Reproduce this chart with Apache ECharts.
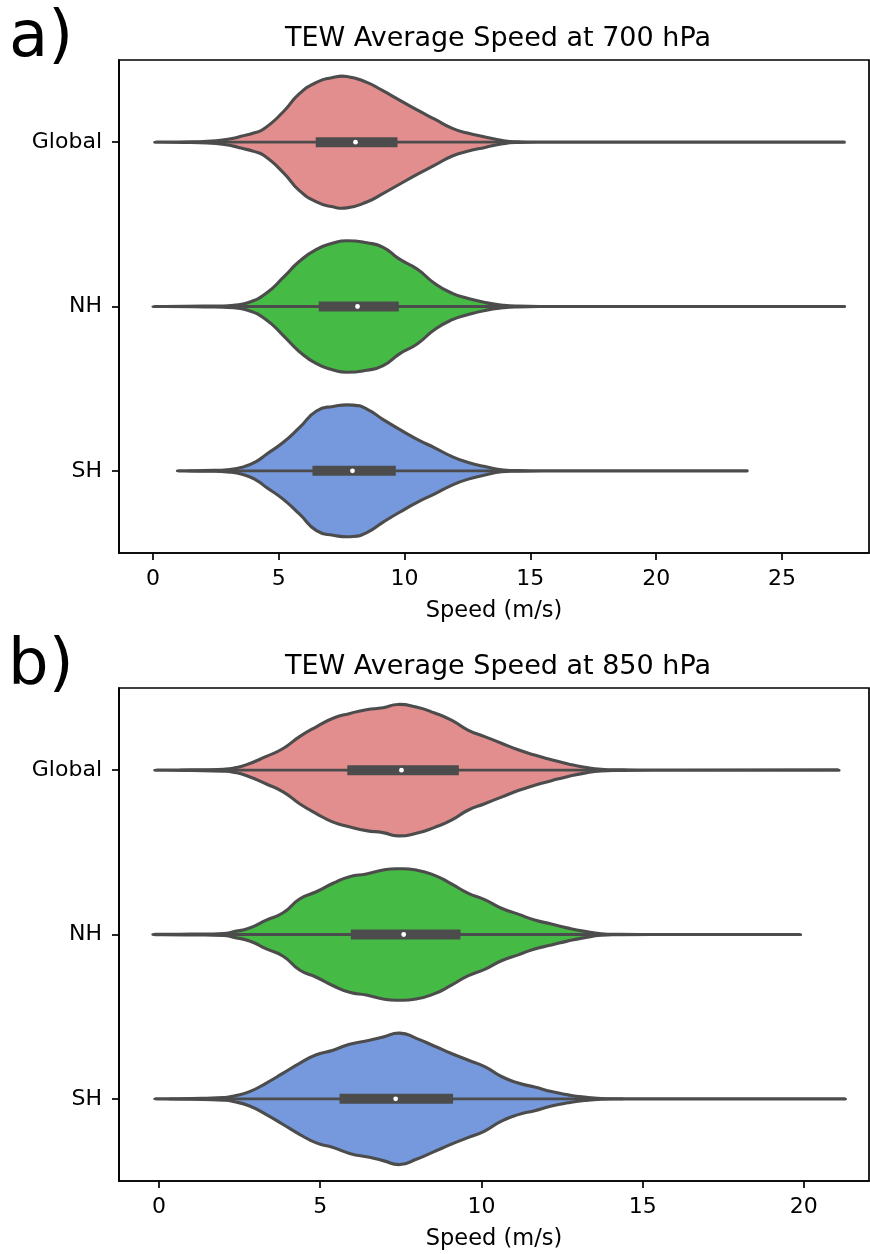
<!DOCTYPE html>
<html>
<head>
<meta charset="utf-8">
<script src="https://cdn.jsdelivr.net/npm/echarts@6/dist/echarts.min.js"></script>
<style>
  html, body { margin: 0; padding: 0; background: #fff; }
  #chart { width: 870px; height: 1254px; }
</style>
</head>
<body>
<div id="chart"></div>
<script>
// ---------- Data ----------
const categories = ['Global', 'NH', 'SH'];
const colors = ['#E28E8E', '#45BA45', '#7599DC'];

const ticks700 = [0, 5, 10, 15, 20, 25];
const ticks850 = [0, 5, 10, 15, 20];

// 700 hPa: box statistics
const q1_700  = [6.47, 6.59, 6.34];
const med_700 = [8.05, 8.13, 7.93];
const q3_700  = [9.72, 9.77, 9.65];
const wlo_700 = [1.60, 1.82, 1.38];
const whi_700 = [14.6, 14.54, 14.62];

// 850 hPa: box statistics
const q1_850  = [5.84, 5.95, 5.60];
const med_850 = [7.52, 7.59, 7.34];
const q3_850  = [9.30, 9.35, 9.12];
const wlo_850 = [0.65, 0.85, 0.32];
const whi_850 = [14.49, 14.45, 14.40];

// Violin outlines: speed values and relative half-widths (1 = widest)
const g700X = [0.07, 1.5, 2.5, 3.2, 3.5, 4.0, 4.4, 5.2, 5.8, 6.5, 7.1, 7.7, 8.5, 9.1, 9.8, 10.5, 11.2, 11.9, 12.5, 13.2, 13.9, 14.5, 16, 27.48];
const g700W = [0, 0.005, 0.02, 0.06, 0.09, 0.14, 0.2, 0.47, 0.73, 0.91, 0.98, 1.0, 0.91, 0.79, 0.64, 0.49, 0.35, 0.21, 0.14, 0.08, 0.025, 0.005, 0.001, 0];

const n700X = [0.0, 2.0, 3.2, 3.8, 4.5, 5.2, 5.8, 6.5, 7.2, 7.7, 8.5, 9.15, 9.8, 10.5, 11.2, 11.9, 12.5, 13.2, 13.9, 14.5, 16, 27.49];
const n700W = [0, 0.005, 0.02, 0.06, 0.2, 0.45, 0.68, 0.87, 0.97, 1.0, 0.97, 0.9, 0.72, 0.57, 0.35, 0.2, 0.125, 0.06, 0.02, 0.005, 0.001, 0];

const s700X = [0.97, 2.0, 3.06, 3.6, 4.1, 4.5, 5.17, 5.83, 6.5, 7.16, 7.95, 8.5, 9.15, 9.8, 10.5, 11.2, 11.87, 12.5, 13.2, 13.85, 14.5, 16, 23.62];
const s700W = [0, 0.005, 0.02, 0.06, 0.14, 0.25, 0.43, 0.66, 0.91, 0.98, 1.0, 0.94, 0.78, 0.63, 0.48, 0.35, 0.22, 0.13, 0.065, 0.015, 0.005, 0.001, 0];

const g850X = [-0.13, 1.0, 2.0, 2.3, 2.7, 3.33, 3.85, 4.36, 4.88, 5.4, 5.9, 6.43, 6.95, 7.41, 7.98, 8.55, 9.07, 9.58, 10.1, 10.62, 11.14, 11.65, 12.17, 12.69, 13.2, 13.72, 14.3, 16, 21.09];
const g850W = [0, 0.005, 0.015, 0.03, 0.08, 0.21, 0.33, 0.51, 0.66, 0.79, 0.86, 0.92, 0.95, 1.0, 0.96, 0.87, 0.76, 0.61, 0.51, 0.41, 0.31, 0.23, 0.16, 0.095, 0.045, 0.012, 0.004, 0.001, 0];

const n850X = [-0.19, 1.0, 2.0, 2.3, 2.81, 3.33, 3.85, 4.36, 4.88, 5.4, 5.91, 6.43, 6.95, 7.36, 7.98, 8.55, 9.07, 9.58, 10.1, 10.62, 11.14, 11.65, 12.17, 12.69, 13.2, 13.72, 14.3, 16, 19.9];
const n850W = [0, 0.005, 0.015, 0.04, 0.1, 0.22, 0.33, 0.54, 0.65, 0.78, 0.88, 0.92, 0.98, 1.0, 0.98, 0.9, 0.77, 0.63, 0.53, 0.4, 0.31, 0.22, 0.16, 0.097, 0.048, 0.012, 0.004, 0.001, 0];

const s850X = [-0.13, 1.0, 2.0, 2.3, 2.81, 3.33, 3.85, 4.36, 4.88, 5.4, 5.91, 6.53, 6.95, 7.47, 7.98, 8.55, 9.07, 9.58, 10.1, 10.62, 11.14, 11.65, 12.17, 12.69, 13.2, 13.72, 14.3, 16, 21.29];
const s850W = [0, 0.005, 0.02, 0.04, 0.11, 0.24, 0.39, 0.54, 0.67, 0.74, 0.83, 0.89, 0.94, 1.0, 0.92, 0.8, 0.69, 0.59, 0.49, 0.34, 0.24, 0.18, 0.11, 0.06, 0.026, 0.006, 0.002, 0.001, 0];

// ---------- Rendering ----------
const FONT = 'DejaVu Sans';
const EDGE = '#4c4c4c';

function makeRender(xs, ws, q1, med, q3, wlo, whi) {
  return function (params, api) {
    const i = params.dataIndex;
    const X = xs[i], W = ws[i];
    const cy = api.coord([0, i])[1];
    const band = api.size([0, 1])[1];
    const maxHalf = band * 0.4;
    const pts = [];
    for (let k = 0; k < X.length; k++) {
      pts.push([api.coord([X[k], i])[0], cy - W[k] * maxHalf]);
    }
    for (let k = X.length - 2; k >= 1; k--) {
      pts.push([api.coord([X[k], i])[0], cy + W[k] * maxHalf]);
    }
    const xq1 = api.coord([q1[i], i])[0];
    const xq3 = api.coord([q3[i], i])[0];
    const xm = api.coord([med[i], i])[0];
    const xlo = api.coord([wlo[i], i])[0];
    const xhi = api.coord([whi[i], i])[0];
    const boxH = 10;
    return {
      type: 'group',
      children: [
        { type: 'polygon', shape: { points: pts, smooth: 0.55 },
          style: { fill: colors[i], stroke: EDGE, lineWidth: 3.1, lineJoin: 'round', lineCap: 'round' } },
        { type: 'line', shape: { x1: xlo, y1: cy, x2: xhi, y2: cy },
          style: { stroke: EDGE, lineWidth: 2.8 } },
        { type: 'rect', shape: { x: xq1, y: cy - boxH / 2, width: xq3 - xq1, height: boxH },
          style: { fill: EDGE } },
        { type: 'circle', shape: { cx: xm, cy: cy, r: 2.4 }, style: { fill: '#fff' } }
      ]
    };
  };
}

function xAxisCfg(grid, min, max, ticks) {
  return {
    gridIndex: grid, type: 'value', min: min, max: max,
    axisLine: { show: true, onZero: false, lineStyle: { color: '#000', width: 1.7 } },
    axisTick: { show: true, length: 7, lineStyle: { color: '#000', width: 1.7 }, customValues: ticks },
    axisLabel: { customValues: ticks, fontSize: 22, color: '#000', fontFamily: FONT, margin: 15 },
    splitLine: { show: false },
    name: 'Speed (m/s)', nameLocation: 'middle', nameGap: 47,
    nameTextStyle: { fontSize: 22.5, color: '#000', fontFamily: FONT }
  };
}
function yAxisCfg(grid) {
  return {
    gridIndex: grid, type: 'category', data: categories, inverse: true,
    axisLine: { show: true, onZero: false, lineStyle: { color: '#000', width: 1.7 } },
    axisTick: { show: true, alignWithLabel: true, length: 7, lineStyle: { color: '#000', width: 1.7 } },
    axisLabel: { fontSize: 22, color: '#000', fontFamily: FONT, margin: 17 },
    splitLine: { show: false }
  };
}

const chart = echarts.init(document.getElementById('chart'), null, { renderer: 'canvas' });
chart.setOption({
  animation: false,
  backgroundColor: '#fff',
  grid: [
    { left: 119, top: 60, width: 750, height: 493, show: true, borderColor: '#000', borderWidth: 1.7, backgroundColor: 'transparent' },
    { left: 119, top: 688, width: 750, height: 493, show: true, borderColor: '#000', borderWidth: 1.7, backgroundColor: 'transparent' }
  ],
  xAxis: [xAxisCfg(0, -1.35, 28.46, ticks700), xAxisCfg(1, -1.24, 22.02, ticks850)],
  yAxis: [yAxisCfg(0), yAxisCfg(1)],
  graphic: [
    { type: 'text', x: 9, y: 39, style: { text: 'a)', font: '64px "DejaVu Sans"', fill: '#000', verticalAlign: 'middle' } },
    { type: 'text', x: 498, y: 39, style: { text: 'TEW Average Speed at 700 hPa', font: '27px "DejaVu Sans"', fill: '#000', align: 'center', verticalAlign: 'middle' } },
    { type: 'text', x: 8, y: 667, style: { text: 'b)', font: '64px "DejaVu Sans"', fill: '#000', verticalAlign: 'middle' } },
    { type: 'text', x: 498, y: 667, style: { text: 'TEW Average Speed at 850 hPa', font: '27px "DejaVu Sans"', fill: '#000', align: 'center', verticalAlign: 'middle' } }
  ],
  series: [
    {
      type: 'custom', xAxisIndex: 0, yAxisIndex: 0, silent: true,
      data: categories.map((c, i) => [med_700[i], i]),
      renderItem: makeRender([g700X, n700X, s700X], [g700W, n700W, s700W], q1_700, med_700, q3_700, wlo_700, whi_700)
    },
    {
      type: 'custom', xAxisIndex: 1, yAxisIndex: 1, silent: true,
      data: categories.map((c, i) => [med_850[i], i]),
      renderItem: makeRender([g850X, n850X, s850X], [g850W, n850W, s850W], q1_850, med_850, q3_850, wlo_850, whi_850)
    }
  ]
});
</script>
</body>
</html>
